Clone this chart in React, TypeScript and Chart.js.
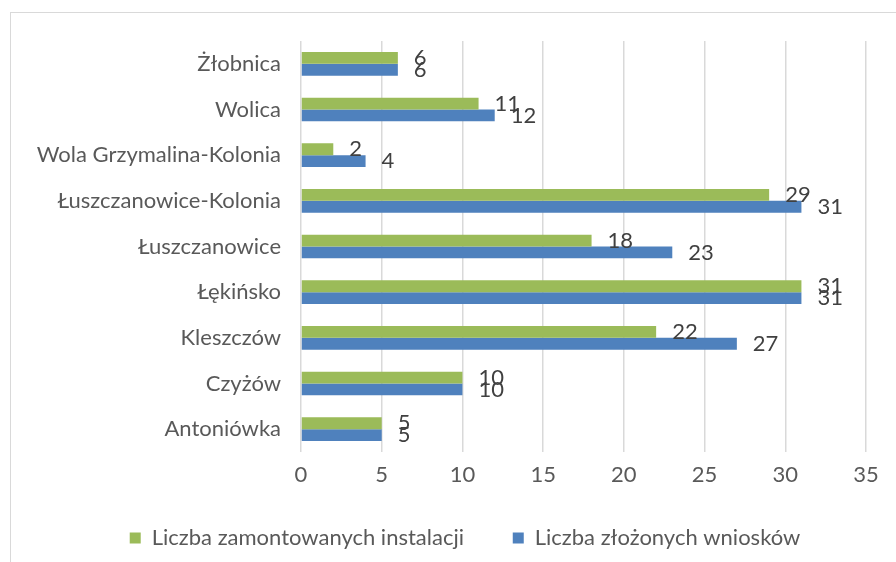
import React, { useEffect, useRef } from "react";
import { Chart, registerables } from "chart.js";

Chart.register(...registerables);

const categories = [
  "Żłobnica",
  "Wolica",
  "Wola Grzymalina-Kolonia",
  "Łuszczanowice-Kolonia",
  "Łuszczanowice",
  "Łękińsko",
  "Kleszczów",
  "Czyżów",
  "Antoniówka",
];
const installed = [6, 11, 2, 29, 18, 31, 22, 10, 5];
const applications = [6, 12, 4, 31, 23, 31, 27, 10, 5];
const seriesNames = ["Liczba zamontowanych instalacji", "Liczba złożonych wniosków"];
const xTicks = [0, 5, 10, 15, 20, 25, 30, 35];

const FONT = "Lato, 'Open Sans', sans-serif";
const FS = 22;

const labelPlugin = {
  id: "barLabels",
  afterLayout(chart: any) {
    const lg = chart.legend;
    if (lg && !lg._shifted) {
      lg.left += 22;
      lg.right += 22;
      lg._shifted = true;
    }
  },
  afterDatasetsDraw(chart: any) {
    const ctx = chart.ctx;
    ctx.save();
    ctx.font = `${FS}px ${FONT}`;
    ctx.fillStyle = "#404040";
    ctx.textAlign = "left";
    ctx.textBaseline = "middle";
    chart.data.datasets.forEach((ds: any, di: number) => {
      const meta = chart.getDatasetMeta(di);
      meta.data.forEach((el: any, i: number) => {
        ctx.fillText(String(ds.data[i]), el.x + 16, el.y);
      });
    });
    ctx.restore();
  },
};

export default function App() {
  const ref = useRef<HTMLCanvasElement>(null);
  useEffect(() => {
    document.body.style.margin = "0";
    const chart = new Chart(ref.current!, {
      type: "bar",
      data: {
        labels: categories,
        datasets: [
          {
            label: seriesNames[0],
            data: installed,
            backgroundColor: "#9BBB59",
            barPercentage: 1,
            categoryPercentage: 0.52,
          },
          {
            label: seriesNames[1],
            data: applications,
            backgroundColor: "#4F81BD",
            barPercentage: 1,
            categoryPercentage: 0.52,
          },
        ],
      },
      options: {
        indexAxis: "y",
        animation: false,
        responsive: false,
        maintainAspectRatio: false,
        layout: { padding: { left: 20, right: 30, top: 41, bottom: 3 } },
        scales: {
          x: {
            min: 0,
            max: 35,
            afterBuildTicks: (s: any) => {
              s.ticks = xTicks.map((v) => ({ value: v }));
            },
            afterFit: (s: any) => {
              s.height = 60;
            },
            grid: { color: "#D9D9D9", lineWidth: 1.5, drawTicks: false },
            border: { display: false },
            ticks: {
              padding: 10,
              color: "#595959",
              font: { family: FONT, size: FS },
            },
          },
          y: {
            grid: { display: false, drawTicks: false },
            border: { display: false },
            afterFit: (s: any) => {
              s.width = 281;
            },
            ticks: {
              padding: 20,
              color: "#595959",
              font: { family: FONT, size: FS },
            },
          },
        },
        plugins: {
          legend: {
            position: "bottom",
            labels: {
              boxWidth: 11,
              boxHeight: 11,
              padding: 15,
              color: "#595959",
              font: { family: FONT, size: FS },
              generateLabels: (c: any) => {
                const base = Chart.defaults.plugins.legend.labels.generateLabels(c);
                return base.map((l: any, i: number) => ({
                  ...l,
                  text: i === 0 ? l.text + "      " : l.text,
                  lineWidth: 0,
                }));
              },
            },
          },
          tooltip: { enabled: false },
        },
      },
      plugins: [labelPlugin],
    });
    return () => chart.destroy();
  }, []);
  return (
    <div style={{ position: "relative", width: 896, height: 562, overflow: "hidden", background: "#fff" }}>
      <div
        style={{
          position: "absolute",
          left: 10,
          top: 12,
          width: 1000,
          height: 1000,
          border: "1.5px solid #D9D9D9",
          boxSizing: "border-box",
        }}
      />
      <canvas ref={ref} width={896} height={562} style={{ position: "absolute", left: 0, top: 0 }} />
    </div>
  );
}
